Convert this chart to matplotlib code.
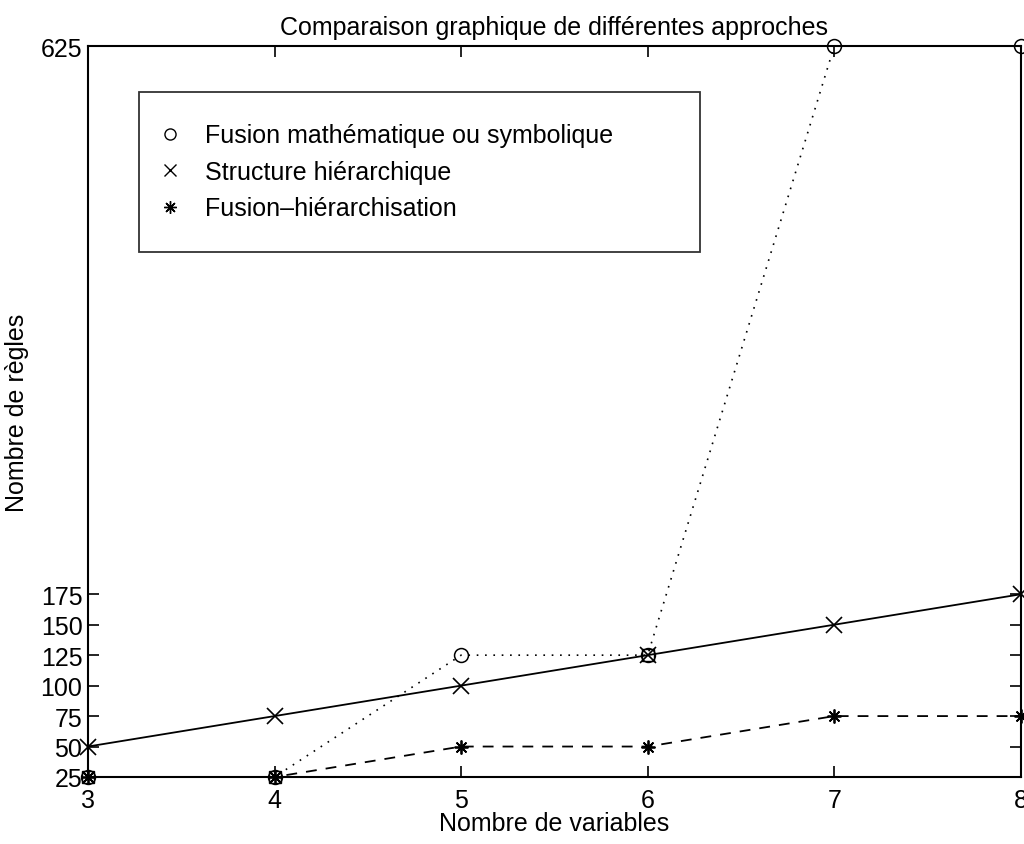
import matplotlib
matplotlib.use('Agg')
import matplotlib.pyplot as plt
from matplotlib.lines import Line2D

plt.rcParams['font.family'] = ['Liberation Sans', 'DejaVu Sans']

nb_variables = [3, 4, 5, 6, 7, 8]
fusion_math = [25, 25, 125, 125, 625, 625]
structure_hier = [50, 75, 100, 125, 150, 175]
fusion_hier = [25, 25, 50, 50, 75, 75]

labels = ['Fusion mathématique ou symbolique',
          'Structure hiérarchique',
          'Fusion\u2013hiérarchisation']
yticks = [25, 50, 75, 100, 125, 150, 175, 625]

asterisk = (8, 2, 0)

fig = plt.figure(figsize=(10.24, 8.45), dpi=100)
ax = fig.add_axes([0.0859, 0.0793, 0.911, 0.865])

ax.plot(nb_variables, fusion_math, color='k', ls=(0, (1, 4)), lw=1.2,
        marker='o', mfc='none', mec='k', ms=10, mew=1.1, clip_on=False)
ax.plot(nb_variables, structure_hier, color='k', ls='-', lw=1.3,
        marker='x', ms=11, mew=1.2, clip_on=False)
ax.plot(nb_variables, fusion_hier, color='k', ls=(0, (6, 5)), lw=1.3,
        marker=asterisk, ms=10, mew=1.3, clip_on=False)
# boxed look where the series coincide
ax.plot([3, 4, 6], [25, 25, 125], ls='none', marker='s', mfc='none',
        mec='k', ms=8, mew=1.0, clip_on=False)

ax.set_xlim(3, 8)
ax.set_ylim(25, 625)
ax.set_xticks(nb_variables)
ax.set_yticks(yticks)
ax.tick_params(direction='in', top=True, right=True, length=8, width=1.2,
               labelsize=18, pad=8)
ax.tick_params(axis='y', pad=4)
for s in ax.spines.values():
    s.set_linewidth(1.5)

ax.set_title('Comparaison graphique de différentes approches', fontsize=18, pad=9)
ax.set_xlabel('Nombre de variables', fontsize=18)
ax.set_ylabel('Nombre de règles', fontsize=18)
ax.xaxis.set_label_coords(0.5, -0.046)
ax.yaxis.set_label_coords(-0.063, 0.5)

handles = [
    Line2D([], [], ls='none', marker='o', mfc='none', mec='k', ms=8, mew=1.0),
    Line2D([], [], ls='none', marker='x', color='k', ms=8, mew=1.0),
    Line2D([], [], ls='none', marker=asterisk, color='k', ms=9, mew=1.0),
]
leg = ax.legend(handles, labels, loc='upper left',
                bbox_to_anchor=(0.0547, 0.4, 0.601, 0.537), mode='expand',
                borderaxespad=0, fontsize=18, frameon=True, fancybox=False,
                edgecolor='k', handlelength=0.0, handletextpad=1.4,
                borderpad=1.25, labelspacing=0.5)
leg.get_frame().set_linewidth(1.3)

fig.savefig('out.png', dpi=100)
